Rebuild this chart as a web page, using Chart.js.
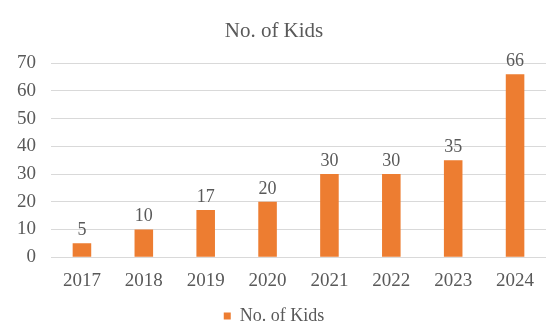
<!DOCTYPE html>
<html>
<head>
<meta charset="utf-8">
<script src="https://cdn.jsdelivr.net/npm/chart.js@4"></script>
<style>
  html, body { margin: 0; padding: 0; background: #fff; }
  #wrap { width: 558px; height: 324px; }
</style>
</head>
<body>
<div id="wrap"><canvas id="kids" width="558" height="324"></canvas></div>
<script>
const years = ['2017', '2018', '2019', '2020', '2021', '2022', '2023', '2024'];
const kids = [5, 10, 17, 20, 30, 30, 35, 66];
const yTicks = [0, 10, 20, 30, 40, 50, 60, 70];

const serif = '"Liberation Serif", "Times New Roman", serif';
const gray = '#595959';

// draws the value above each bar
const barValues = {
    id: 'barValues',
    afterDatasetsDraw(chart) {
        const ctx = chart.ctx;
        const meta = chart.getDatasetMeta(0);
        ctx.save();
        ctx.font = '18px ' + serif;
        ctx.fillStyle = gray;
        ctx.textAlign = 'center';
        ctx.textBaseline = 'bottom';
        meta.data.forEach((bar, i) => {
            ctx.fillText(kids[i], bar.x, bar.y - 4);
        });
        ctx.restore();
    }
};

const ctx = document.getElementById('kids').getContext('2d');
new Chart(ctx, {
    type: 'bar',
    data: {
        labels: years,
        datasets: [
            {
                label: 'No. of Kids',
                data: kids,
                backgroundColor: '#ED7D31',
                barPercentage: 0.6,
                categoryPercentage: 0.5
            }
        ]
    },
    options: {
        responsive: false,
        animation: false,
        layout: {
            padding: {left: 2, right: 12, top: 4, bottom: -11}
        },
        plugins: {
            title: {
                display: true,
                text: 'No. of Kids',
                color: gray,
                font: {family: serif, size: 21, weight: 'normal'},
                padding: {top: 15, bottom: 19}
            },
            legend: {
                position: 'bottom',
                labels: {
                    color: gray,
                    font: {family: serif, size: 18},
                    boxWidth: 7,
                    boxHeight: 7,
                    padding: 3
                }
            },
            tooltip: {enabled: false}
        },
        scales: {
            x: {
                grid: {display: false, drawTicks: false},
                border: {display: false},
                ticks: {color: gray, font: {family: serif, size: 19}, padding: 12}
            },
            y: {
                min: 0,
                max: 70,
                afterBuildTicks(axis) {
                    axis.ticks = yTicks.map(v => ({value: v}));
                },
                grid: {color: '#d9d9d9', drawTicks: false},
                border: {display: false},
                ticks: {color: gray, font: {family: serif, size: 19}, padding: 15, autoSkip: false}
            }
        }
    },
    plugins: [barValues]
});
</script>
</body>
</html>
